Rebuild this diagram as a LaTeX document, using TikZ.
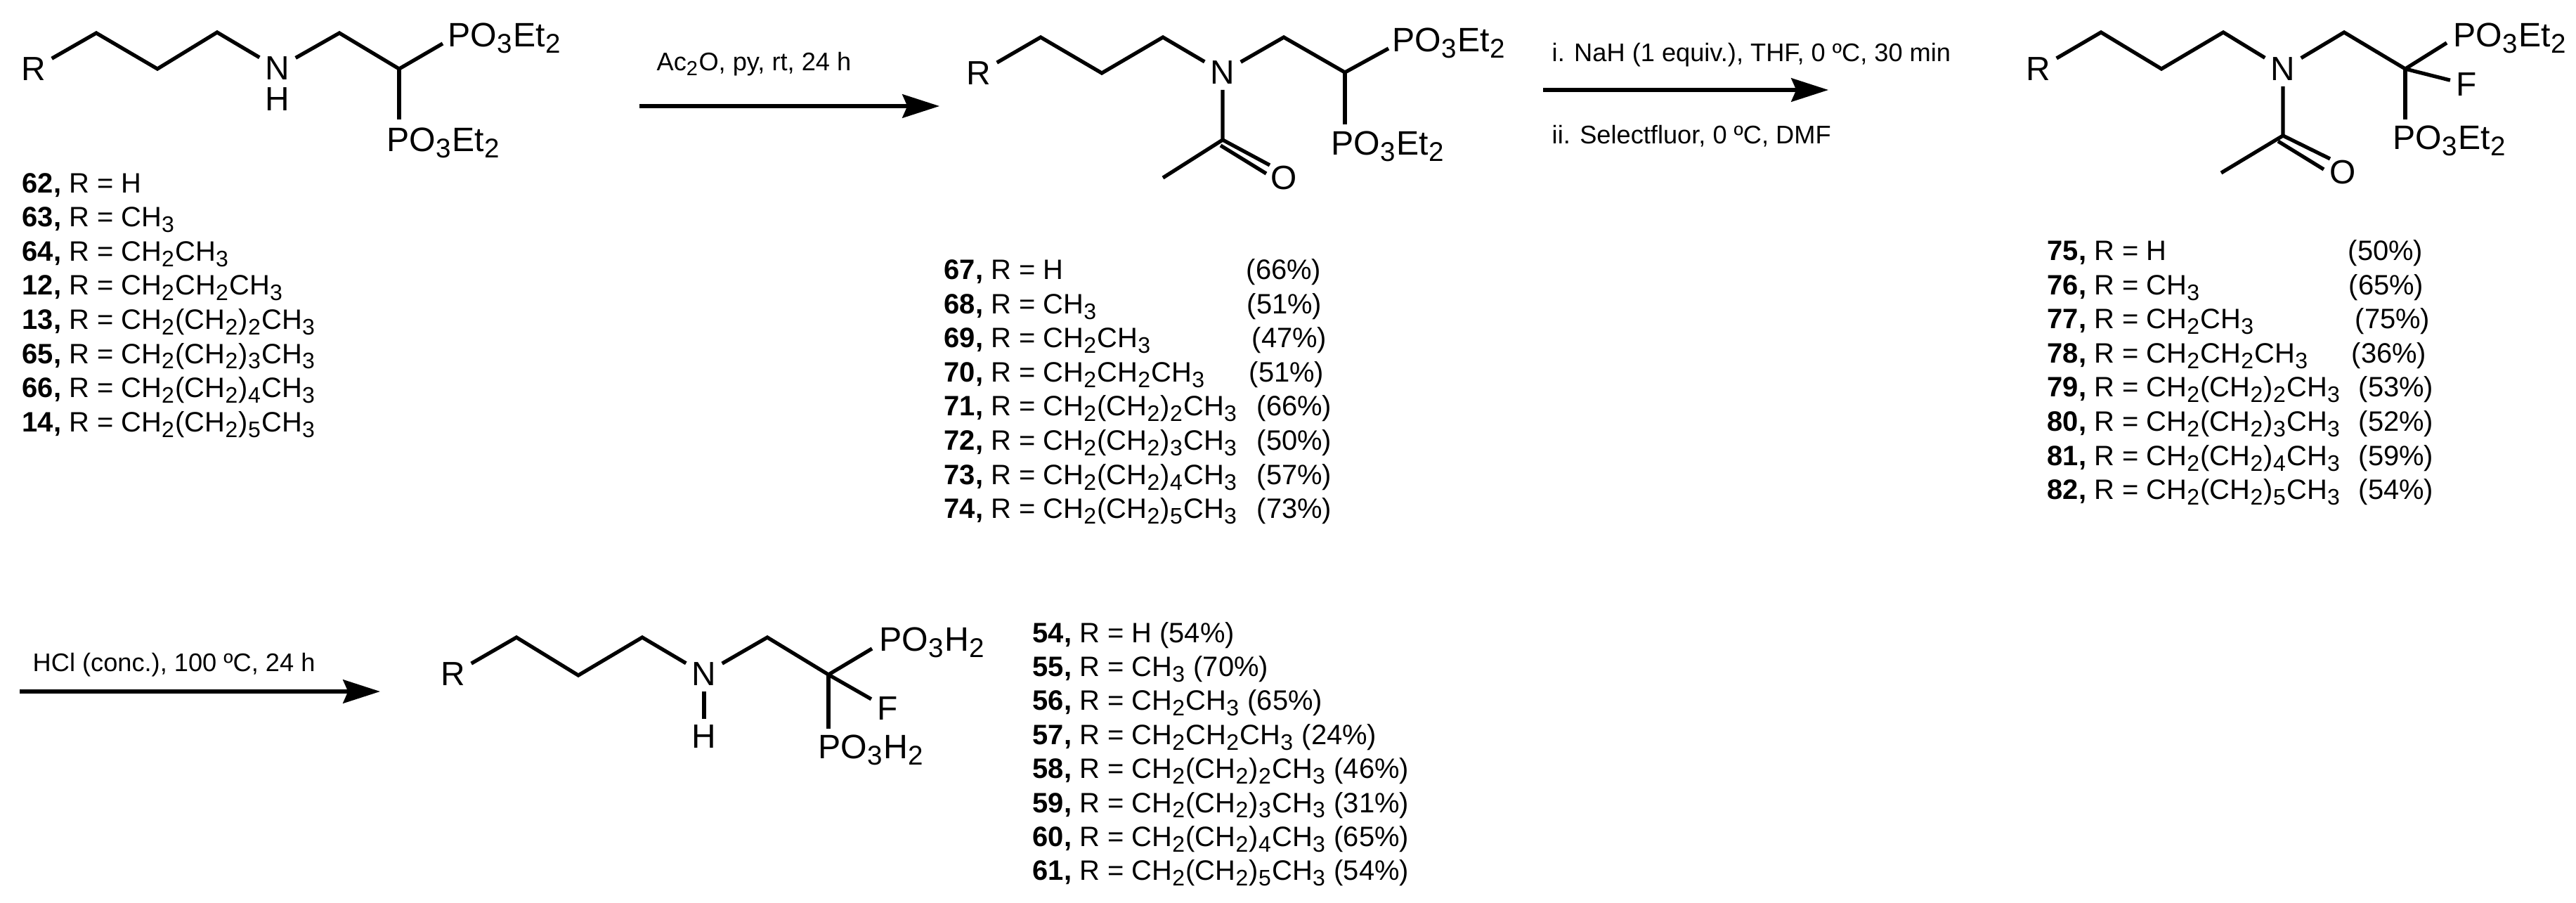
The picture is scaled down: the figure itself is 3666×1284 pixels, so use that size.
\documentclass[tikz,border=0pt]{standalone}
\usepackage{fontspec}
\setmainfont{Liberation Sans}
\usetikzlibrary{arrows.meta}
\newcommand{\chemsub}[1]{\raisebox{-0.2em}{\scalebox{0.8}{#1}}\kern0.04em}
\tikzset{
    atom/.style={font=\fontsize{13.6}{16}\selectfont,inner sep=2.2pt},
    group/.style={font=\fontsize{13.7}{16}\selectfont,inner sep=0pt,anchor=base west},
    bond/.style={line width=1.5pt},
    reagent/.style={font=\fontsize{10.3}{12}\selectfont,inner sep=0pt,anchor=base west},
    entry/.style={font=\fontsize{11.35}{13}\selectfont,inner sep=0pt,anchor=base west},
    rxnarrow/.style={line width=1.6pt,-{Stealth[length=15pt,width=9.5pt,inset=2pt]}}
}
\begin{document}
\begin{tikzpicture}[x=0.01cm,y=-0.01cm]
    \useasboundingbox (0,0) rectangle (3666,1284);

    % Starting amine
    \node[atom] (smR) at (48,98) {R};
    \node[atom] (smN) at (395,97) {N};
    \node[atom] (smH) at (395,141) {H};
    \node[group] (smPa) at (637,66) {PO\chemsub{3}Et\chemsub{2}};
    \node[group] (smPb) at (550,215) {PO\chemsub{3}Et\chemsub{2}};
    \coordinate (sma) at (137,47);
    \coordinate (smb) at (224,98);
    \coordinate (smc) at (309,46);
    \coordinate (smd) at (483,47);
    \coordinate (sme) at (568,98);
    \coordinate (smf) at (630,62);
    \coordinate (smg) at (568,170);
    \draw[bond] (smR) -- (sma) -- (smb) -- (smc) -- (smN) -- (smd) -- (sme) -- (smf);
    \draw[bond] (sme) -- (smg);

    % Acetylated amine
    \node[atom] (acR) at (1393,104) {R};
    \node[atom] (acN) at (1740,103) {N};
    \node[atom] (acO) at (1827,253) {O};
    \node[group] (acPa) at (1981,73) {PO\chemsub{3}Et\chemsub{2}};
    \node[group] (acPb) at (1894,220) {PO\chemsub{3}Et\chemsub{2}};
    \coordinate (aca) at (1481,53);
    \coordinate (acb) at (1568,104);
    \coordinate (acc) at (1655,53);
    \coordinate (acd) at (1827,53);
    \coordinate (ace) at (1914,103);
    \coordinate (acf) at (1976,69);
    \coordinate (acg) at (1914,177);
    \coordinate (ach) at (1740,199);
    \coordinate (aci) at (1655,253);
    \coordinate (acj) at (1807,235);
    \coordinate (ack) at (1737,207);
    \coordinate (acl) at (1802,247);
    \draw[bond] (acR) -- (aca) -- (acb) -- (acc) -- (acN) -- (acd) -- (ace) -- (acf);
    \draw[bond] (ace) -- (acg);
    \draw[bond] (acN) -- (ach) -- (aci);
    \draw[bond] (ach) -- (acj);
    \draw[bond] (ack) -- (acl);

    % Fluorinated product
    \node[atom] (flR) at (2901,98) {R};
    \node[atom] (flN) at (3249,98) {N};
    \node[atom] (flO) at (3334,245) {O};
    \node[atom] (flF) at (3510,120) {F};
    \node[group] (flPa) at (3491,66) {PO\chemsub{3}Et\chemsub{2}};
    \node[group] (flPb) at (3405,212) {PO\chemsub{3}Et\chemsub{2}};
    \coordinate (fla) at (2990,46);
    \coordinate (flb) at (3076,98);
    \coordinate (flc) at (3164,46);
    \coordinate (fld) at (3336,46);
    \coordinate (fle) at (3423,98);
    \coordinate (flf) at (3482,61);
    \coordinate (flg) at (3423,170);
    \coordinate (flh) at (3249,193);
    \coordinate (fli) at (3161,246);
    \coordinate (flj) at (3316,226);
    \coordinate (flk) at (3242,201);
    \coordinate (fll) at (3307,241);
    \draw[bond] (flR) -- (fla) -- (flb) -- (flc) -- (flN) -- (fld) -- (fle) -- (flf);
    \draw[bond] (fle) -- (flg);
    \draw[bond] (fle) -- (flF);
    \draw[bond] (flN) -- (flh) -- (fli);
    \draw[bond] (flh) -- (flj);
    \draw[bond] (flk) -- (fll);

    % Free acid
    \node[atom] (deR) at (645,959) {R};
    \node[atom] (deN) at (1002,959) {N};
    \node[atom] (deH) at (1002,1048) {H};
    \node[atom] (deF) at (1263,1008) {F};
    \node[group] (dePa) at (1251,926) {PO\chemsub{3}H\chemsub{2}};
    \node[group] (dePb) at (1164,1079) {PO\chemsub{3}H\chemsub{2}};
    \coordinate (dea) at (735,907);
    \coordinate (deb) at (823,961);
    \coordinate (dec) at (914,907);
    \coordinate (ded) at (1092,907);
    \coordinate (dee) at (1179,960);
    \coordinate (def) at (1241,923);
    \coordinate (deg) at (1179,1037);
    \draw[bond] (deR) -- (dea) -- (deb) -- (dec) -- (deN) -- (ded) -- (dee) -- (def);
    \draw[bond] (dee) -- (deg);
    \draw[bond] (dee) -- (deF);
    \draw[bond] (deN) -- (deH);

    % Reaction arrows
    \coordinate (arAs) at (910,151);
    \coordinate (arAe) at (1337,151);
    \coordinate (arBs) at (2196,128);
    \coordinate (arBe) at (2602,128);
    \coordinate (arCs) at (28,984);
    \coordinate (arCe) at (541,984);
    \draw[rxnarrow] (arAs) -- (arAe);
    \draw[rxnarrow] (arBs) -- (arBe);
    \draw[rxnarrow] (arCs) -- (arCe);
    \node[reagent] (rgA) at (934,100) {Ac\chemsub{2}O, py, rt, 24 h};
    \node[reagent] (rgB) at (2208,87) {i. NaH (1 equiv.), THF, 0 ºC, 30 min};
    \node[reagent] (rgC) at (2208,204) {ii. Selectfluor, 0 ºC, DMF};
    \node[reagent] (rgD) at (46,955) {HCl (conc.), 100 ºC, 24 h};

    % Compound lists
    \foreach \num/\rgrp [count=\i from 0] in {62/H,63/CH\chemsub{3},64/CH\chemsub{2}CH\chemsub{3},12/CH\chemsub{2}CH\chemsub{2}CH\chemsub{3},13/CH\chemsub{2}(CH\chemsub{2})\chemsub{2}CH\chemsub{3},65/CH\chemsub{2}(CH\chemsub{2})\chemsub{3}CH\chemsub{3},66/CH\chemsub{2}(CH\chemsub{2})\chemsub{4}CH\chemsub{3},14/CH\chemsub{2}(CH\chemsub{2})\chemsub{5}CH\chemsub{3}}
        \node[entry] (cp\num) at (31,{274+48.6*\i}) {\textbf{\num,} R = \rgrp};

    \foreach \num/\rgrp/\yx/\yld [count=\i from 0] in {67/H/1773/66,68/CH\chemsub{3}/1774/51,69/CH\chemsub{2}CH\chemsub{3}/1781/47,70/CH\chemsub{2}CH\chemsub{2}CH\chemsub{3}/1777/51,71/CH\chemsub{2}(CH\chemsub{2})\chemsub{2}CH\chemsub{3}/1788/66,72/CH\chemsub{2}(CH\chemsub{2})\chemsub{3}CH\chemsub{3}/1788/50,73/CH\chemsub{2}(CH\chemsub{2})\chemsub{4}CH\chemsub{3}/1788/57,74/CH\chemsub{2}(CH\chemsub{2})\chemsub{5}CH\chemsub{3}/1788/73}{
        \node[entry] (cp\num) at (1343,{397.5+48.6*\i}) {\textbf{\num,} R = \rgrp};
        \node[entry] (yd\num) at (\yx,{397.5+48.6*\i}) {(\yld\%)};
    }

    \foreach \num/\rgrp/\yx/\yld [count=\i from 0] in {75/H/3341/50,76/CH\chemsub{3}/3342/65,77/CH\chemsub{2}CH\chemsub{3}/3351/75,78/CH\chemsub{2}CH\chemsub{2}CH\chemsub{3}/3346/36,79/CH\chemsub{2}(CH\chemsub{2})\chemsub{2}CH\chemsub{3}/3356/53,80/CH\chemsub{2}(CH\chemsub{2})\chemsub{3}CH\chemsub{3}/3356/52,81/CH\chemsub{2}(CH\chemsub{2})\chemsub{4}CH\chemsub{3}/3356/59,82/CH\chemsub{2}(CH\chemsub{2})\chemsub{5}CH\chemsub{3}/3356/54}{
        \node[entry] (cp\num) at (2913,{370.5+48.6*\i}) {\textbf{\num,} R = \rgrp};
        \node[entry] (yd\num) at (\yx,{370.5+48.6*\i}) {(\yld\%)};
    }

    \foreach \num/\rgrp/\yld [count=\i from 0] in {54/H/54,55/CH\chemsub{3}/70,56/CH\chemsub{2}CH\chemsub{3}/65,57/CH\chemsub{2}CH\chemsub{2}CH\chemsub{3}/24,58/CH\chemsub{2}(CH\chemsub{2})\chemsub{2}CH\chemsub{3}/46,59/CH\chemsub{2}(CH\chemsub{2})\chemsub{3}CH\chemsub{3}/31,60/CH\chemsub{2}(CH\chemsub{2})\chemsub{4}CH\chemsub{3}/65,61/CH\chemsub{2}(CH\chemsub{2})\chemsub{5}CH\chemsub{3}/54}
        \node[entry] (cp\num) at (1469,{914+48.4*\i}) {\textbf{\num,} R = \rgrp{} (\yld\%)};
\end{tikzpicture}
\end{document}
